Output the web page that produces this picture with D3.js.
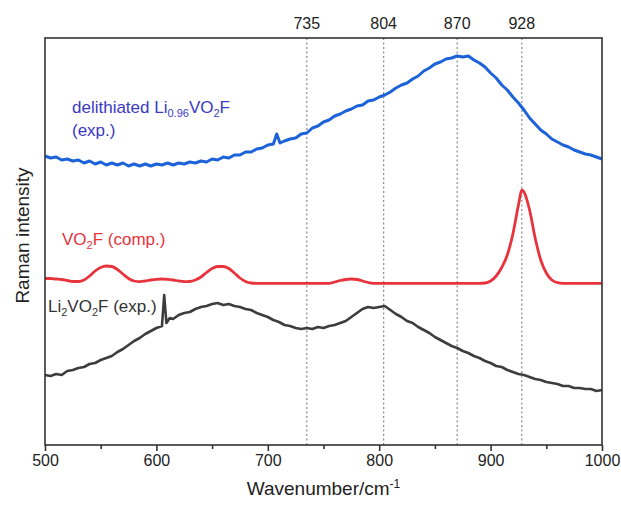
<!DOCTYPE html>
<html>
<head>
<meta charset="UTF-8">
<style>
  body { margin: 0; background: #fff; }
  svg { display: block; font-family: "Liberation Sans", Arial, sans-serif; }
</style>
</head>
<body>
<svg id="chart"></svg>
<script src="https://d3js.org/d3.v7.min.js"></script>
<script>
// ---- data (intensity in arbitrary units) ----
const peakLines = [735, 804, 870, 928];
const xTicks = [500, 600, 700, 800, 900, 1000];

// delithiated Li0.96VO2F (exp.)
const blueX = [500,505,510,515,520,525,530,535,540,545,550,555,560,565,570,575,580,585,590,595,
  600,605,610,615,620,625,630,635,640,645,650,655,660,665,670,675,680,685,690,695,
  700,705,708,711,715,720,725,730,735,740,745,750,755,760,765,770,775,780,785,790,795,
  800,805,810,815,820,825,830,835,840,845,850,855,860,865,870,875,880,885,890,895,
  900,905,910,915,920,925,930,935,940,945,950,955,960,965,970,975,980,985,990,995,1000];
const blueY = [289,287,288,285,286,284,285,282,284,281,283,280,282,280,282,279,281,279,281,279,
  281,280,282,280,282,281,283,282,284,283,286,285,288,287,290,290,293,293,296,297,
  300,301,311,302,304,306,307,311,312,317,319,323,325,329,331,334,336,339,340,344,345,
  348,350,353,357,360,362,366,369,374,377,381,383,386,387,389,388,389,385,382,378,
  372,367,360,355,348,342,335,327,321,315,311,306,303,300,298,295,293,291,290,288,286];

// VO2F (comp.)
const redX = [500,505,510,515,520,525,530,535,540,545,550,555,560,565,570,575,580,585,590,595,
  600,605,610,615,620,625,630,635,640,645,650,655,660,665,670,675,680,685,690,
  755,760,765,770,775,780,785,790,795,
  890,895,900,905,910,915,920,925,928,930,935,940,945,950,955,960,965,1000];
const redY = [166.5,166.5,166,165.5,164.5,163.5,163.5,165,169,174,177.5,179,178.5,175.5,171,166.5,164,163.3,164,165,
  165.7,166,165.7,165,164,163.3,163.5,165,168,172.5,176.5,178.5,178.5,176.5,172,167,163.5,162,161.7,
  161.7,163,164.5,165.5,166,165.5,164,162.5,161.7,
  161.7,162,164,169,177.5,190,211,240,255,253,235,207,185,172,165,162.3,161.7,161.7];

// Li2VO2F (exp.)
const blackX = [500,505,510,515,520,525,530,535,540,545,550,555,560,565,570,575,580,585,590,595,
  600,605,607,609,612,615,620,625,630,635,640,645,650,655,660,665,670,675,680,685,690,695,
  700,705,710,715,720,725,730,735,740,745,750,755,760,765,770,775,780,785,790,795,
  800,805,810,815,820,825,830,835,840,845,850,855,860,865,870,875,880,885,890,895,
  900,905,910,915,920,925,930,935,940,945,950,955,960,965,970,975,980,985,990,995,1000];
const blackY = [70,69,71,70,74,75,77,78,81,82,85,87,89,93,96,100,104,107,111,114,
  117,119,150,122,127,126,130,132,133,136,138,139,141,142,140,141,139,138,136,135,132,130,
  128,125,123,120,119,117,116,117,116,118,117,119,120,122,124,128,132,136,138,137,
  138,139,135,131,128,124,122,118,115,112,108,105,102,99,97,94,92,89,87,84,
  82,79,78,75,73,71,70,68,66,65,63,62,61,59,59,57,57,56,56,54,55];

// ---- layout ----
const width = 621, height = 506;
const margin = {top: 38, right: 19, bottom: 61, left: 45};
const iw = width - margin.left - margin.right;
const ih = height - margin.top - margin.bottom;

const svg = d3.select("#chart").attr("width", width).attr("height", height);
const g = svg.append("g").attr("transform", `translate(${margin.left},${margin.top})`);

const x = d3.scaleLinear().domain([500, 1000]).range([0, iw]);
const y = d3.scaleLinear().domain([0, 407]).range([ih, 0]);

// dashed peak markers
g.selectAll(".peak")
  .data(peakLines)
  .enter()
  .append("line")
  .attr("x1", d => x(d)).attr("x2", d => x(d))
  .attr("y1", 0).attr("y2", ih)
  .attr("stroke", "#8a8a8a")
  .attr("stroke-width", 1.2)
  .attr("stroke-dasharray", "2,2.5");

svg.selectAll(".peakLabel")
  .data(peakLines)
  .enter()
  .append("text")
  .attr("x", d => margin.left + x(d))
  .attr("y", 29)
  .attr("text-anchor", "middle")
  .attr("font-size", 16)
  .attr("fill", "#222")
  .text(d => d);

// curves
const line = (xs, ys, curve) => d3.line()
  .x((d, i) => x(xs[i]))
  .y((d, i) => y(ys[i]))
  .curve(curve)(ys);

g.append("path")
  .attr("d", line(redX, redY, d3.curveMonotoneX))
  .attr("fill", "none")
  .attr("stroke", "#e8333c")
  .attr("stroke-width", 2.8);

g.append("path")
  .attr("d", line(blackX, blackY, d3.curveLinear))
  .attr("fill", "none")
  .attr("stroke", "#3d3d3d")
  .attr("stroke-width", 2.6)
  .attr("stroke-linejoin", "round");

g.append("path")
  .attr("d", line(blueX, blueY, d3.curveLinear))
  .attr("fill", "none")
  .attr("stroke", "#1c62d8")
  .attr("stroke-width", 3)
  .attr("stroke-linejoin", "round");

// frame
g.append("rect")
  .attr("width", iw).attr("height", ih)
  .attr("fill", "none")
  .attr("stroke", "#333")
  .attr("stroke-width", 1.6);

// x axis
const xAxis = g.append("g")
  .attr("transform", `translate(0,${ih})`)
  .call(d3.axisBottom(x).tickValues(xTicks).tickSize(6).tickPadding(4).tickFormat(d3.format("d")));
xAxis.select(".domain").remove();
xAxis.selectAll("line").attr("stroke", "#333").attr("stroke-width", 1.6);
xAxis.selectAll("text").attr("font-size", 16).attr("fill", "#222")
  .attr("font-family", "Liberation Sans, Arial, sans-serif");

const minor = g.append("g")
  .attr("transform", `translate(0,${ih})`)
  .call(d3.axisBottom(x).tickValues([550, 650, 750, 850, 950]).tickSize(4).tickFormat(""));
minor.select(".domain").remove();
minor.selectAll("line").attr("stroke", "#333").attr("stroke-width", 1.6);

// axis titles
const xt = svg.append("text")
  .attr("x", margin.left + iw / 2)
  .attr("y", 495)
  .attr("text-anchor", "middle")
  .attr("font-size", 19)
  .attr("fill", "#222");
xt.append("tspan").text("Wavenumber/cm");
xt.append("tspan").attr("dy", -7).attr("font-size", 12).text("-1");

svg.append("text")
  .attr("transform", `translate(29,${margin.top + ih / 2 - 6}) rotate(-90)`)
  .attr("text-anchor", "middle")
  .attr("font-size", 19)
  .attr("fill", "#222")
  .text("Raman intensity");

// annotations: parts are [text] or [text, "sub"]
function label(parts, px, py, color) {
  const t = svg.append("text").attr("x", px).attr("y", py)
    .attr("font-size", 17).attr("fill", color);
  let shifted = false;
  parts.forEach(p => {
    const sp = t.append("tspan").text(p[0]);
    if (p[1] === "sub") {
      sp.attr("font-size", 11).attr("dy", shifted ? 0 : 4);
      shifted = true;
    } else {
      if (shifted) sp.attr("dy", -4);
      shifted = false;
    }
  });
  return t;
}

label([["delithiated Li"], ["0.96", "sub"], ["VO"], ["2", "sub"], ["F"]], 72, 113, "#3a3ac2");
label([["(exp.)"]], 72, 136, "#3a3ac2");
label([["VO"], ["2", "sub"], ["F (comp.)"]], 62, 245, "#e8333c");
label([["Li"], ["2", "sub"], ["VO"], ["2", "sub"], ["F (exp.)"]], 48, 312, "#333");
</script>
</body>
</html>
